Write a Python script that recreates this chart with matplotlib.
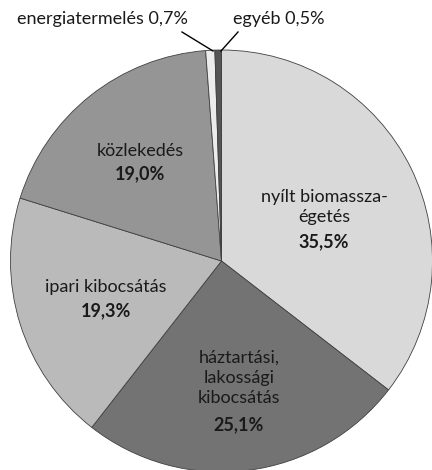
import matplotlib
matplotlib.use('Agg')
import matplotlib.pyplot as plt

# slice data, clockwise from 12 o'clock
labels = ["nyílt biomassza-\négetés", "háztartási,\nlakossági\nkibocsátás",
          "ipari kibocsátás", "közlekedés", "energiatermelés", "egyéb"]
values = [35.5, 25.1, 19.3, 19.0, 0.7, 0.5]
pct_text = ["35,5%", "25,1%", "19,3%", "19,0%", "0,7%", "0,5%"]
colors = ["#d9d9d9", "#737373", "#bababa", "#959595", "#ececec", "#555555"]

plt.rcParams['font.family'] = ['Lato', 'DejaVu Sans']

W, H = 432, 470
CX, CY, R = 221.5, 261.0, 211.0


def px(x, y):
    # pixel position -> data coords (pie radius = 1)
    return (x - CX) / R, (CY - y) / R


fig = plt.figure(figsize=(W / 100, H / 100), dpi=100)
ax = fig.add_axes([0, 0, 1, 1])
ax.pie(values, colors=colors, startangle=90, counterclock=False, radius=1,
       wedgeprops=dict(edgecolor="#404040", linewidth=0.6))
ax.set_xlim(-CX / R, (W - CX) / R)
ax.set_ylim(-(H - CY) / R, CY / R)
ax.set_aspect('equal')
ax.axis('off')

fs = 13
# inside labels: name lines then bold percentage
inside = [(0, 324, 207, 242), (1, 239, 378, 425), (2, 106, 287, 311), (3, 140, 151, 174)]
for i, x, yname, ypct in inside:
    tx, ty = px(x, yname)
    ax.text(tx, ty, labels[i], ha="center", va="center", fontsize=fs,
            color="#1a1a1a", linespacing=1.3)
    tx, ty = px(x, ypct)
    ax.text(tx, ty, pct_text[i], ha="center", va="center", fontsize=fs,
            fontweight="bold", color="#1a1a1a")

# outside labels for tiny slices
tx, ty = px(102, 19)
ax.text(tx, ty, f"{labels[4]} {pct_text[4]}", ha="center", va="center",
        fontsize=fs, color="#1a1a1a")
tx, ty = px(279, 19)
ax.text(tx, ty, f"{labels[5]} {pct_text[5]}", ha="center", va="center",
        fontsize=fs, color="#1a1a1a")
ax.plot(*zip(px(182, 32), px(213, 51)), color="black", lw=1.0)
ax.plot(*zip(px(238, 32), px(221, 51)), color="black", lw=1.0)

fig.savefig("out.png", dpi=100)
